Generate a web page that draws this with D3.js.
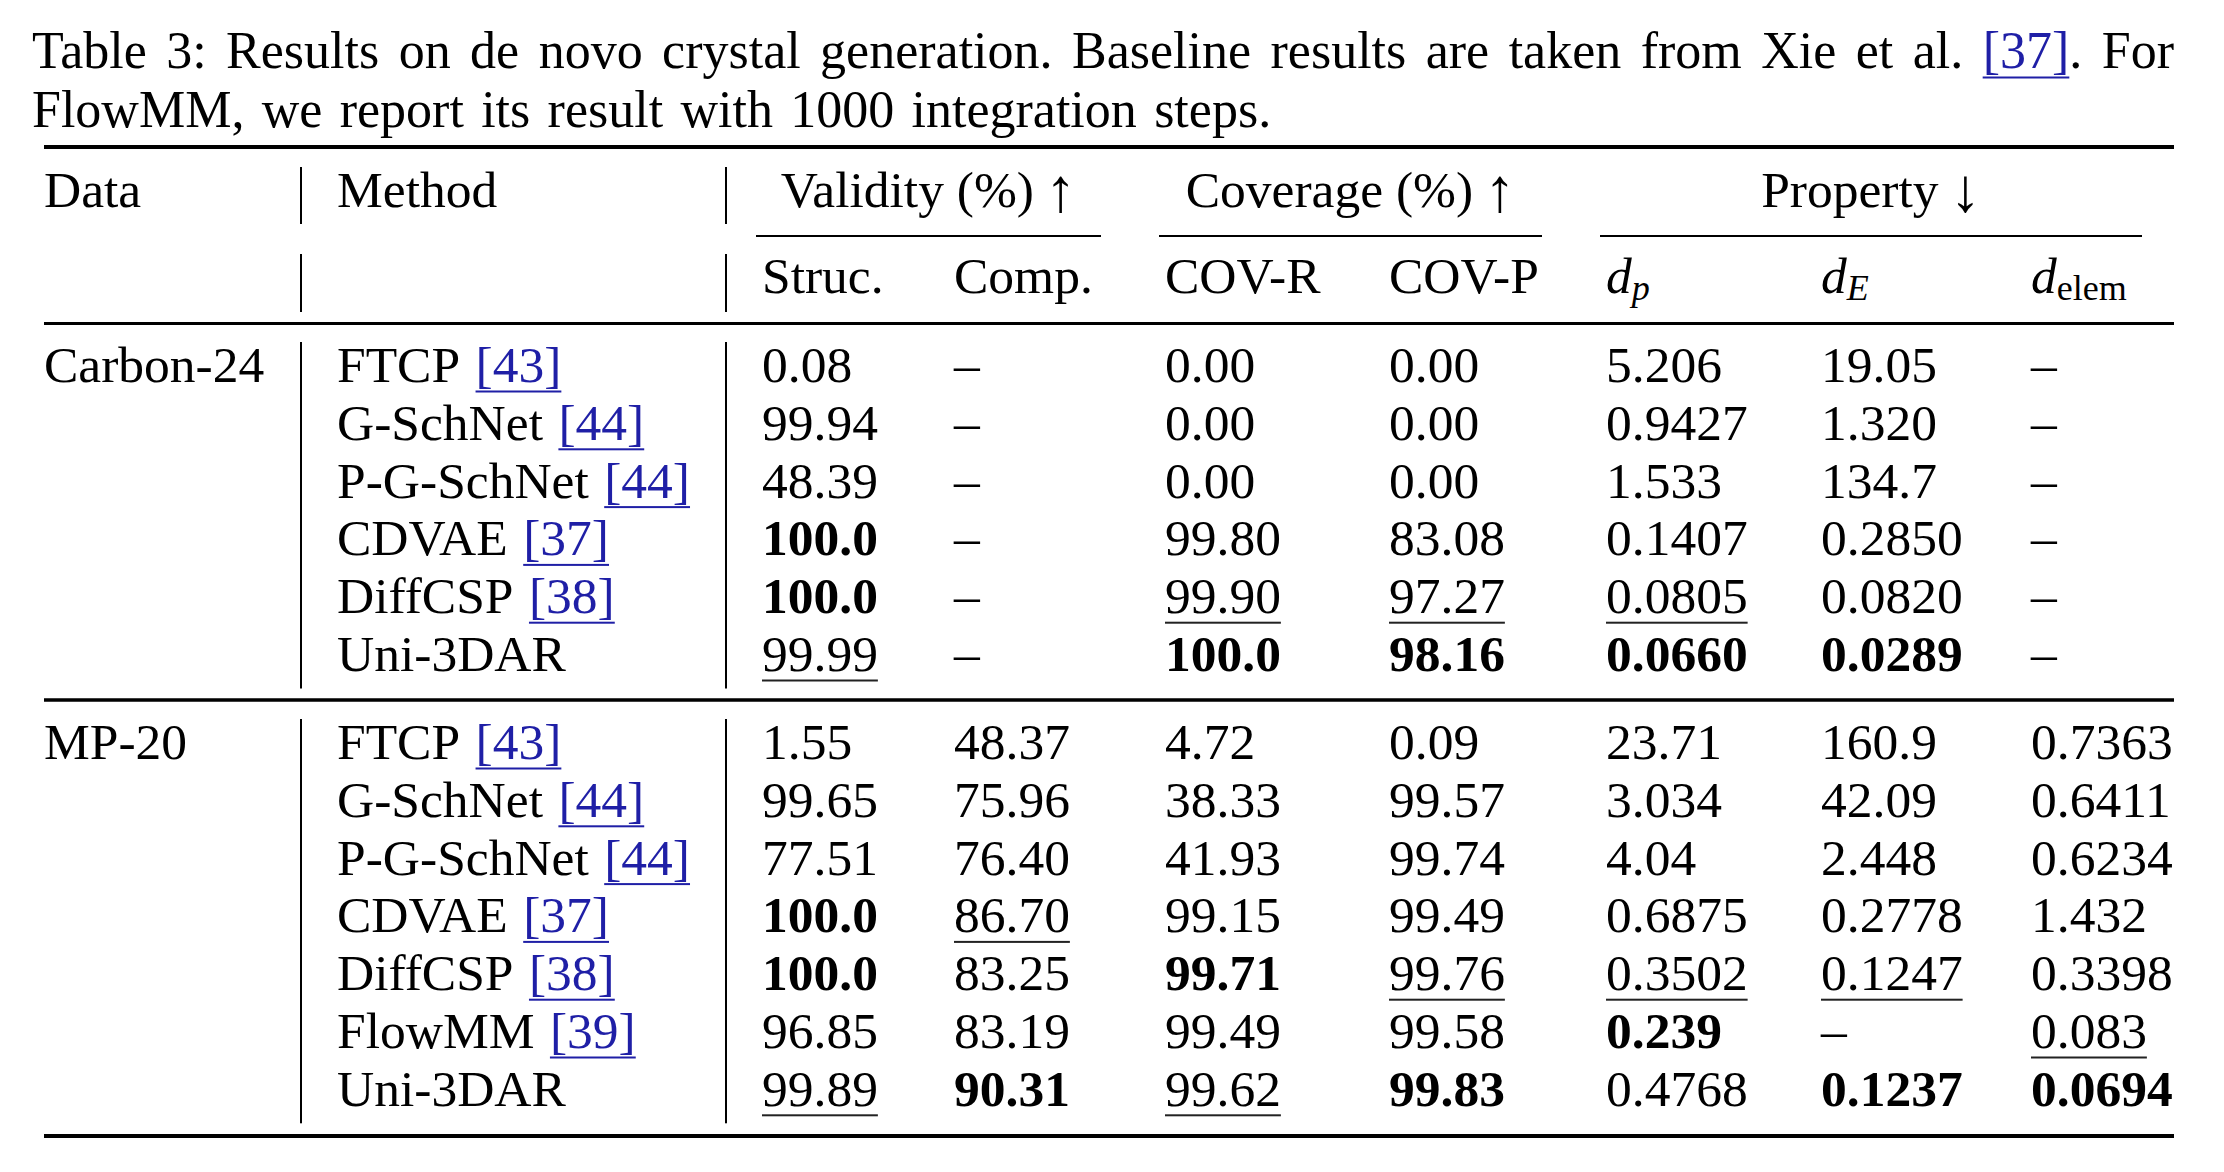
<!DOCTYPE html>
<html>
<head>
<meta charset="utf-8">
<script src="https://cdn.jsdelivr.net/npm/d3@7"></script>
<style>
  html, body { margin: 0; padding: 0; background: #ffffff; }
  svg { display: block; }
</style>
</head>
<body>
<svg id="chart" width="2224" height="1172"></svg>
<script>
// ---------------- DATA ----------------
const captionLine1 = "Table 3: Results on de novo crystal generation. Baseline results are taken from Xie et al. [37]. For";
const captionLine2 = "FlowMM, we report its result with 1000 integration steps.";

const headerData = "Data";
const headerMethod = "Method";
const groupLabels = ["Validity (%)", "Coverage (%)", "Property"];
const groupArrows = ["\u2191", "\u2191", "\u2193"];
const groupFirstCol = ["Struc.", "COV-R", "d_p"];
const groupLastCol = ["Comp.", "COV-P", "d_elem"];
const subColumns = ["Struc.", "Comp.", "COV-R", "COV-P", "d_p", "d_E", "d_elem"];

const datasets = ["Carbon-24", "MP-20"];

const carbonMethods = ["FTCP", "G-SchNet", "P-G-SchNet", "CDVAE", "DiffCSP", "Uni-3DAR"];
const carbonRefs    = ["[43]", "[44]", "[44]", "[37]", "[38]", ""];
const carbonStruc = ["0.08", "99.94", "48.39", "100.0", "100.0", "99.99"];
const carbonComp  = ["\u2013", "\u2013", "\u2013", "\u2013", "\u2013", "\u2013"];
const carbonCovR  = ["0.00", "0.00", "0.00", "99.80", "99.90", "100.0"];
const carbonCovP  = ["0.00", "0.00", "0.00", "83.08", "97.27", "98.16"];
const carbonDp    = ["5.206", "0.9427", "1.533", "0.1407", "0.0805", "0.0660"];
const carbonDE    = ["19.05", "1.320", "134.7", "0.2850", "0.0820", "0.0289"];
const carbonDelem = ["\u2013", "\u2013", "\u2013", "\u2013", "\u2013", "\u2013"];
const carbonBest   = ["Struc.:3", "Struc.:4", "COV-R:5", "COV-P:5", "d_p:5", "d_E:5"];
const carbonSecond = ["Struc.:5", "COV-R:4", "COV-P:4", "d_p:4"];

const mp20Methods = ["FTCP", "G-SchNet", "P-G-SchNet", "CDVAE", "DiffCSP", "FlowMM", "Uni-3DAR"];
const mp20Refs    = ["[43]", "[44]", "[44]", "[37]", "[38]", "[39]", ""];
const mp20Struc = ["1.55", "99.65", "77.51", "100.0", "100.0", "96.85", "99.89"];
const mp20Comp  = ["48.37", "75.96", "76.40", "86.70", "83.25", "83.19", "90.31"];
const mp20CovR  = ["4.72", "38.33", "41.93", "99.15", "99.71", "99.49", "99.62"];
const mp20CovP  = ["0.09", "99.57", "99.74", "99.49", "99.76", "99.58", "99.83"];
const mp20Dp    = ["23.71", "3.034", "4.04", "0.6875", "0.3502", "0.239", "0.4768"];
const mp20DE    = ["160.9", "42.09", "2.448", "0.2778", "0.1247", "\u2013", "0.1237"];
const mp20Delem = ["0.7363", "0.6411", "0.6234", "1.432", "0.3398", "0.083", "0.0694"];
const mp20Best   = ["Struc.:3", "Struc.:4", "Comp.:6", "COV-R:4", "COV-P:6", "d_p:5", "d_E:6", "d_elem:6"];
const mp20Second = ["Struc.:6", "Comp.:3", "COV-R:6", "COV-P:4", "d_p:4", "d_E:4", "d_elem:5"];

// ---------------- ASSEMBLY ----------------
const groupsData = [
  { name: datasets[0], methods: carbonMethods, refs: carbonRefs,
    cols: [carbonStruc, carbonComp, carbonCovR, carbonCovP, carbonDp, carbonDE, carbonDelem],
    best: new Set(carbonBest), second: new Set(carbonSecond) },
  { name: datasets[1], methods: mp20Methods, refs: mp20Refs,
    cols: [mp20Struc, mp20Comp, mp20CovR, mp20CovP, mp20Dp, mp20DE, mp20Delem],
    best: new Set(mp20Best), second: new Set(mp20Second) }
];

// ---------------- LAYOUT ----------------
const FONT = "'Liberation Serif', 'Times New Roman', Times, serif";
const INK = "#000000";
const LINK = "#1f1fa6";
const TFS = 51.5;   // table font size
const CFS = 52;     // caption font size
const tableLeft = 44, tableRight = 2174;
const colSep = 32;

const allCols = [headerData, headerMethod, ...subColumns];
const xCol = d3.scaleOrdinal()
  .domain(allCols)
  .range([44, 337, 762, 954, 1165, 1389, 1606, 1821, 2031]);

const rowStep = 57.8;
const groupFirstBaseline = [382, 759];
const yRow = groupsData.map((g, i) =>
  d3.scaleLinear().domain([0, g.methods.length - 1])
    .range([groupFirstBaseline[i], groupFirstBaseline[i] + rowStep * (g.methods.length - 1)]));

const headerBase1 = 207, headerBase2 = 293;

const svg = d3.select("#chart");
svg.append("rect").attr("width", 2224).attr("height", 1172).attr("fill", "#fff");

// text helpers
function appendPart(g, x, y, p, fs) {
  const t = g.append("text")
    .attr("x", x).attr("y", y + (p.dy || 0))
    .attr("font-family", p.family || FONT)
    .attr("font-size", p.size || fs)
    .attr("font-weight", p.bold ? "bold" : "normal")
    .attr("font-style", p.italic ? "italic" : "normal")
    .attr("fill", p.cite ? LINK : INK)
    .text(p.text);
  const w = t.node().getComputedTextLength();
  if (p.cite) {
    g.append("rect").attr("x", x).attr("y", y + 8.5).attr("width", w).attr("height", 2).attr("fill", LINK);
  }
  return w;
}
function drawParts(g, x, y, parts, fs) {
  let cx = x;
  parts.forEach(p => { cx += (p.gap || 0); cx += appendPart(g, cx, y, p, fs); });
  return cx;
}
function wordParts(word) {
  return word.split(/(\[\d+\])/).filter(s => s.length).map(s => ({ text: s, cite: /^\[\d+\]$/.test(s) }));
}
function labelParts(label, fs) {
  const m = label.match(/^(\w)_(\w+)$/);
  if (!m) return [{ text: label }];
  return [{ text: m[1], italic: true },
          { text: m[2], italic: m[2].length === 1, size: fs * 0.7, dy: 7 }];
}

// ---------------- CAPTION ----------------
const cap = svg.append("g");
(function () {
  const words = captionLine1.split(" ");
  const tmp = words.map(w => {
    const g = cap.append("g");
    const w1 = drawParts(g, 0, 0, wordParts(w), CFS);
    return { g, w: w1 };
  });
  const x0 = 32, x1 = tableRight;
  const total = d3.sum(tmp, d => d.w);
  const space = (x1 - x0 - total) / (words.length - 1);
  let cx = x0;
  tmp.forEach(d => { d.g.attr("transform", `translate(${cx},68)`); cx += d.w + space; });

  const words2 = captionLine2.split(" ");
  let cx2 = 32;
  words2.forEach(w => {
    const g = cap.append("g");
    const ww = drawParts(g, 0, 0, wordParts(w), CFS);
    g.attr("transform", `translate(${cx2},127)`);
    cx2 += ww + CFS * 0.333;
  });
})();

// ---------------- RULES ----------------
const rules = svg.append("g");
function hrule(y, th, xa = tableLeft, xb = tableRight) {
  rules.append("rect").attr("x", xa).attr("y", y - th / 2).attr("width", xb - xa).attr("height", th).attr("fill", INK);
}
hrule(147, 4);
hrule(323.5, 3);
hrule(700, 3.5);
hrule(1136, 4);

function colBoundaryAfter(col) {
  const i = subColumns.indexOf(col);
  return i === subColumns.length - 1 ? tableRight : xCol(subColumns[i + 1]) - colSep;
}
const groupExtents = groupLabels.map((lab, i) => {
  const xa = xCol(groupFirstCol[i]) - 6;
  const xb = colBoundaryAfter(groupLastCol[i]) - colSep;
  return { lab, arrow: groupArrows[i], xa, xb };
});
groupExtents.forEach(e => hrule(236, 2, e.xa, e.xb));

// vertical bars
const bars = [xCol(headerMethod) - 36, xCol("Struc.") - 36];
function vbar(x, ya, yb) {
  rules.append("rect").attr("x", x - 1).attr("y", ya).attr("width", 2).attr("height", yb - ya).attr("fill", INK);
}
bars.forEach(x => {
  vbar(x, headerBase1 - 40, headerBase1 + 17);
  vbar(x, headerBase2 - 39, headerBase2 + 19);
  groupsData.forEach((g, gi) => {
    vbar(x, yRow[gi](0) - 40, yRow[gi](g.methods.length - 1) + 17.5);
  });
});

// ---------------- HEADERS ----------------
const head = svg.append("g");
drawParts(head, xCol(headerData), headerBase1, [{ text: headerData }], TFS);
drawParts(head, xCol(headerMethod), headerBase1, [{ text: headerMethod }], TFS);
groupExtents.forEach(e => {
  const g = head.append("g");
  const w = drawParts(g, 0, headerBase1, [
    { text: e.lab },
    { text: e.arrow, size: TFS * 1.2, dy: 4, gap: TFS * 0.22 }
  ], TFS);
  g.attr("transform", `translate(${(e.xa + e.xb) / 2 - w / 2},0)`);
});
subColumns.forEach(c => drawParts(head, xCol(c), headerBase2, labelParts(c, TFS), TFS));

// ---------------- BODY ----------------
const body = svg.append("g");
groupsData.forEach((g, gi) => {
  const y = yRow[gi];
  drawParts(body, xCol(headerData), y(0), [{ text: g.name }], TFS);
  g.methods.forEach((m, ri) => {
    const parts = [{ text: m }];
    if (g.refs[ri]) parts.push({ text: g.refs[ri], cite: true, gap: TFS * 0.3 });
    drawParts(body, xCol(headerMethod), y(ri), parts, TFS);
  });
  subColumns.forEach((c, ci) => {
    g.cols[ci].forEach((v, ri) => {
      const key = c + ":" + ri;
      const isBest = g.best.has(key), isSecond = g.second.has(key);
      const x0 = xCol(c);
      const x1 = drawParts(body, x0, y(ri), [{ text: v, bold: isBest }], TFS);
      if (isSecond) {
        body.append("rect").attr("x", x0).attr("y", y(ri) + 8.5).attr("width", x1 - x0).attr("height", 2).attr("fill", "#222");
      }
    });
  });
});
</script>
</body>
</html>
